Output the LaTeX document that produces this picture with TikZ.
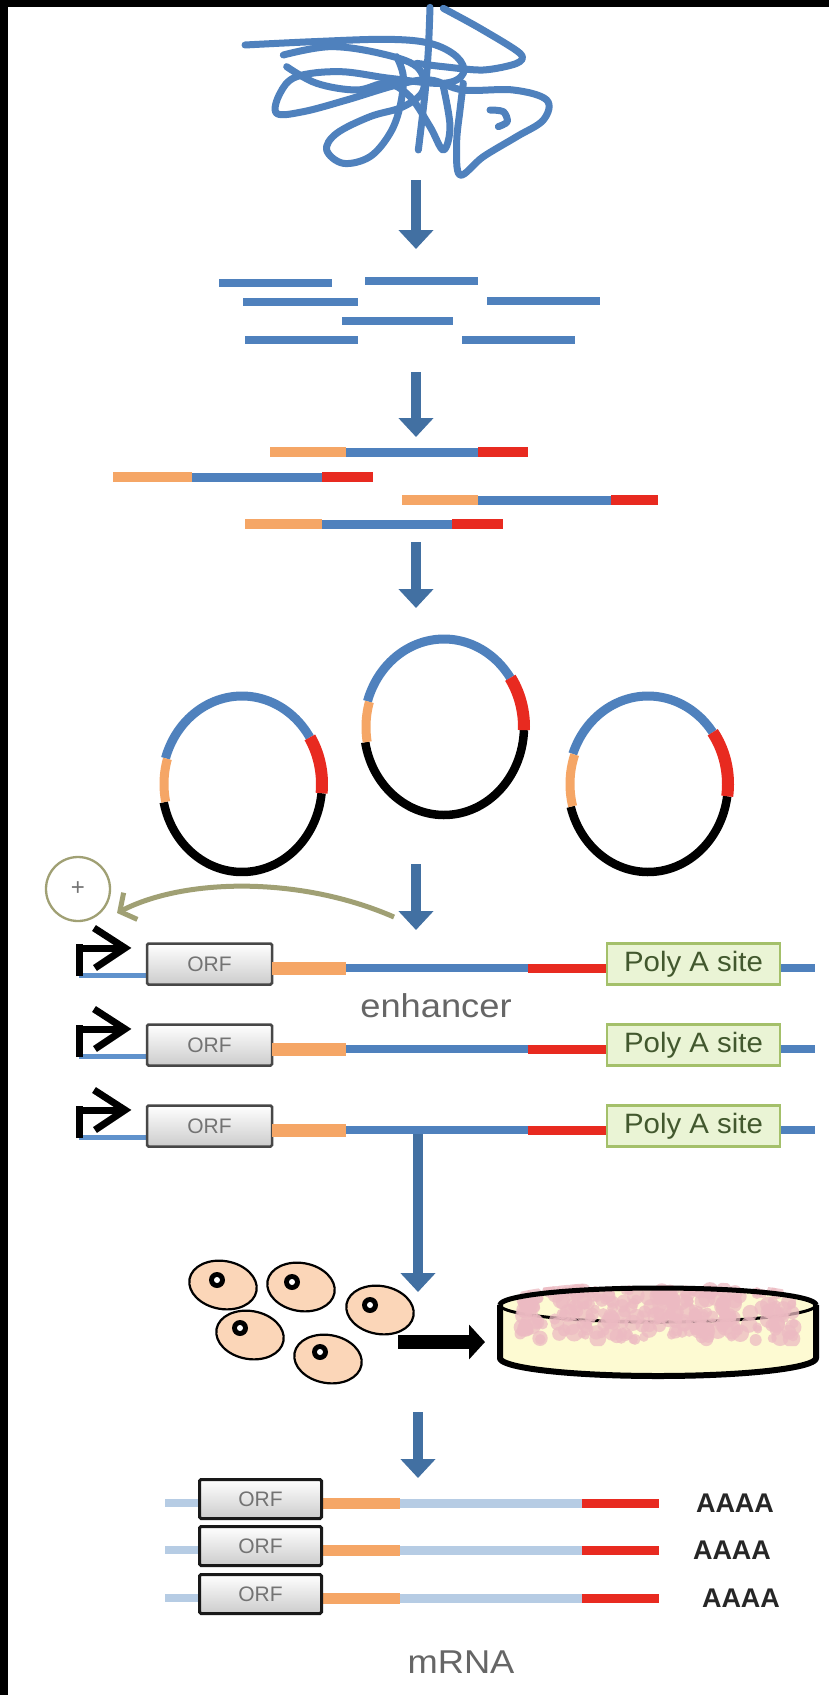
\documentclass[tikz,border=0pt]{standalone}
\usepackage{fontspec}
\setmainfont{Liberation Sans}
\usetikzlibrary{arrows.meta}

\definecolor{dnablue}{RGB}{79,129,189}
\definecolor{flowblue}{RGB}{66,112,162}
\definecolor{adaptor}{RGB}{245,166,102}
\definecolor{tagred}{RGB}{232,42,32}
\definecolor{linkblue}{RGB}{96,146,204}
\definecolor{rnablue}{RGB}{182,204,228}
\definecolor{enhcol}{RGB}{160,160,116}
\definecolor{polyfill}{RGB}{234,244,213}
\definecolor{polyline}{RGB}{164,192,106}
\definecolor{polytext}{RGB}{66,88,46}
\definecolor{cellfill}{RGB}{251,214,184}
\definecolor{dishfill}{RGB}{253,250,210}
\definecolor{colony}{RGB}{236,186,194}

\tikzset{
  dna/.style={line width=7pt, dnablue, line cap=round, line join=round},
  frag/.style={line width=8pt, dnablue},
  flow/.style={line width=10pt, flowblue, -{Triangle[length=19pt,width=34pt]}},
  adseg/.style={line width=10pt, adaptor},
  tagseg/.style={line width=10pt, tagred},
  bodyseg/.style={line width=9pt, dnablue},
  promo/.style={line width=7pt, black},
  orfbox/.style={draw=black!72, line width=2.5pt, top color=white, bottom color=black!20,
    minimum width=125pt, minimum height=41pt, inner sep=0pt, rounded corners=1.5pt,
    text=black!55, font=\fontsize{21pt}{21pt}\selectfont},
  rnaorf/.style={orfbox, draw=black!90, line width=3pt, minimum width=122pt, minimum height=39pt},
  polybox/.style={draw=polyline, line width=2.5pt, fill=polyfill, minimum width=173pt,
    minimum height=41pt, inner sep=0pt, text=polytext, font=\fontsize{28pt}{28pt}\selectfont},
  label/.style={text=black!60, font=\fontsize{33pt}{33pt}\selectfont, xscale=1.1},
  tail/.style={text=black!85, font=\bfseries\fontsize{27pt}{27pt}\selectfont},
  cellbody/.style={fill=cellfill, draw=black, line width=2.2pt},
}

% circular vector: centre, blue start, blue/red, red/black, black start, orange end
\newcommand\plasmid[7]{%
  \draw[line width=8.5pt, black] plot[domain=#6:#5, samples=60] ({#1+80*cos(\x)},{#2-88*sin(\x)});
  \draw[line width=9pt, dnablue] plot[domain=#4:#3, samples=60] ({#1+80*cos(\x)},{#2-88*sin(\x)});
  \draw[line width=9pt, adaptor] plot[domain=#3:#7, samples=20] ({#1+78*cos(\x)},{#2-86*sin(\x)});
  \draw[line width=12pt, tagred] plot[domain=#5:#4, samples=30] ({#1+80*cos(\x)},{#2-88*sin(\x)});
}

\begin{document}
\begin{tikzpicture}[x=1pt, y=-1pt]
\useasboundingbox (0,0) rectangle (829,1695);
\fill[white] (0,0) rectangle (829,1695);
\fill[black] (0,0) rectangle (8,1695);
\fill[black] (0,0) rectangle (829,7);

% tangled genomic DNA
\begin{scope}[shift={(230,0)}, scale=1/3]
  \draw[dna] plot[smooth, tension=0.6] coordinates {(45,135) (250,125) (470,118) (600,130) (680,170) (700,220) (640,250) (480,235) (330,215) (200,230) (150,280) (140,340) (220,335) (350,300) (500,255) (600,240) (700,270) (850,270) (950,300) (940,360) (860,410) (760,470) (690,525) (680,430) (690,330) (700,250)};
  \draw[dna] plot[smooth, tension=0.6] coordinates {(160,165) (300,140) (450,160) (560,200) (580,270) (520,320) (420,350) (320,400) (290,450) (340,490) (420,470) (480,400) (510,320) (520,230) (500,170)};
  \draw[dna] plot[smooth, tension=0.6] coordinates {(170,200) (260,250) (380,270) (470,250) (540,290) (600,380) (640,450) (660,380) (640,260)};
  \draw[dna] plot[smooth] coordinates {(600,22) (595,150) (585,280) (565,450)};
  \draw[dna] plot[smooth, tension=0.5] coordinates {(640,25) (750,85) (870,160) (860,190) (760,210) (640,200) (560,190)};
  \draw[dna] plot[smooth] coordinates {(780,330) (820,335) (832,365) (805,380)};
\end{scope}

% flow arrows between the stages
\coordinate (a1s) at (416,180);  \coordinate (a1e) at (416,249);
\coordinate (a2s) at (416,372);  \coordinate (a2e) at (416,437);
\coordinate (a3s) at (416,542);  \coordinate (a3e) at (416,608);
\coordinate (a4s) at (416,864);  \coordinate (a4e) at (416,930);
\coordinate (a5s) at (418,1130); \coordinate (a5e) at (418,1292);
\coordinate (a6s) at (418,1412); \coordinate (a6e) at (418,1478);
\draw[flow] (a1s) -- (a1e);
\draw[flow] (a2s) -- (a2e);
\draw[flow] (a3s) -- (a3e);
\draw[flow] (a4s) -- (a4e);
\draw[flow] (a5s) -- (a5e);
\draw[flow] (a6s) -- (a6e);

% sheared fragments
\draw[frag] (219,283) -- (332,283);
\draw[frag] (365,281) -- (478,281);
\draw[frag] (243,302) -- (358,302);
\draw[frag] (487,301) -- (600,301);
\draw[frag] (342,321) -- (453,321);
\draw[frag] (245,340) -- (358,340);
\draw[frag] (462,340) -- (575,340);

% fragments with adaptors
\foreach \y/\p/\q/\r/\s in {452/270/346/478/528, 477/113/192/322/373, 500/402/478/611/658, 524/245/322/452/503}{
  \draw[adseg] (\p,\y) -- (\q,\y);
  \draw[bodyseg] (\q,\y) -- (\r,\y);
  \draw[tagseg] (\r,\y) -- (\s,\y);
}

% cloned vectors
\plasmid{242}{784}{163}{32}{-6}{-168}{192}
\plasmid{444}{727}{163}{34}{-2}{-170}{190}
\plasmid{648}{784}{160}{36}{-8}{-165}{195}

% enhancer feedback
\node (plus) [circle, draw=enhcol, line width=2.3pt, minimum size=64pt, inner sep=0pt,
  text=black!55, font=\fontsize{24pt}{24pt}\selectfont] at (78,889) {+};
\coordinate (enhs) at (394,917);
\coordinate (enhe) at (117,913);
\draw[enhcol, line width=5pt, -{Straight Barb[length=12pt,width=30pt]}]
  (enhs) .. controls (300,876) and (185,878) .. (enhe);

% reporter constructs
\foreach \k/\Y in {1/968, 2/1049, 3/1130}{
  \draw[line width=5pt, linkblue] (79,{\Y+7}) -- (150,{\Y+7});
  \draw[promo] (79,{\Y+8}) -- (79,{\Y-24});
  \draw[promo] (76,{\Y-20}) -- (124,{\Y-20});
  \draw[promo, line join=miter] (94,{\Y-40}) -- (125,{\Y-20}) -- (95,{\Y});
  \node (orf\k) [orfbox] at (209.5,{\Y-4}) {ORF};
  \coordinate (ad\k) at (272,\Y);
  \coordinate (bd\k) at (346,\Y);
  \coordinate (tg\k) at (528,\Y);
  \coordinate (pa\k) at (607,\Y);
  \coordinate (pb\k) at (780,\Y);
  \coordinate (en\k) at (815,\Y);
  \draw[line width=13pt, adaptor] (ad\k) -- (bd\k);
  \draw[line width=8pt, dnablue] (bd\k) -- (tg\k);
  \draw[line width=9pt, tagred] (tg\k) -- (pa\k);
  \draw[line width=8pt, dnablue] (pb\k) -- (en\k);
  \node (poly\k) [polybox] at (693.5,{\Y-4}) {\scalebox{1.05}[1]{Poly A site}};
}
\node (enh) [label] at (436,1006) {enhancer};

% transfected cells
\foreach \cx/\cy/\nx/\ny in {223/1285/217/1280, 301/1287/292/1282, 380/1310/370/1305, 250/1335/240/1328, 328/1359/320/1352}{
  \filldraw[cellbody, rotate around={-10:(\cx,\cy)}] (\cx,\cy) ellipse[x radius=34, y radius=24];
  \fill[black] (\nx,\ny) circle[radius=8];
  \fill[white] (\nx,\ny) circle[radius=3];
}
\coordinate (cells) at (398,1342);
\coordinate (dishin) at (485,1342);
\draw[line width=14pt, black, -{Triangle[length=16pt,width=34pt]}] (cells) -- (dishin);

% culture dish
\fill[dishfill] (500,1305) -- (500,1358)
  -- plot[domain=180:360, samples=60] ({658+158*cos(\x)},{1358-18*sin(\x)})
  -- (816,1305)
  -- plot[domain=0:180, samples=60] ({658+158*cos(\x)},{1305-17*sin(\x)}) -- cycle;
\draw[black, line width=3pt] plot[domain=180:360, samples=60] ({658+158*cos(\x)},{1305-17*sin(\x)});
\begin{scope}
  \clip (500,1346) -- (500,1305)
    -- plot[domain=180:0, samples=40] ({658+160*cos(\x)},{1303-22*sin(\x)})
    -- (816,1346) -- cycle;
  \pgfmathsetseed{11}
  \foreach \i in {1,...,260}{
    \pgfmathsetmacro\bx{520+276*rnd}
    \pgfmathsetmacro\by{1290+50*rnd}
    \pgfmathsetmacro\br{4+5*rnd}
    \fill[colony, opacity=0.75] (\bx,\by) circle[radius=\br];
  }
\end{scope}
\draw[black, line width=6pt, line join=round] (500,1305) -- (500,1358)
  -- plot[domain=180:360, samples=60] ({658+158*cos(\x)},{1358-18*sin(\x)})
  -- (816,1305);
\draw[black, line width=5pt] plot[domain=0:180, samples=60] ({658+158*cos(\x)},{1305-17*sin(\x)});

% mRNA products
\foreach \k/\Y/\ax in {1/1503/735, 2/1550/732, 3/1598/741}{
  \coordinate (ra\k) at (165,\Y);
  \coordinate (rb\k) at (200,\Y);
  \coordinate (rc\k) at (322,\Y);
  \coordinate (rd\k) at (400,\Y);
  \coordinate (re\k) at (582,\Y);
  \coordinate (rf\k) at (659,\Y);
  \draw[line width=8pt, rnablue] (ra\k) -- (rb\k);
  \draw[line width=11pt, adaptor] (rc\k) -- (rd\k);
  \draw[line width=9pt, rnablue] (rd\k) -- (re\k);
  \draw[line width=9pt, tagred] (re\k) -- (rf\k);
  \node (rorf\k) [rnaorf] at (260.5,{\Y-4}) {ORF};
  \node (polya\k) [tail] at (\ax,\Y) {AAAA};
}
\node (mrna) [label] at (461,1662) {mRNA};
\end{tikzpicture}
\end{document}
